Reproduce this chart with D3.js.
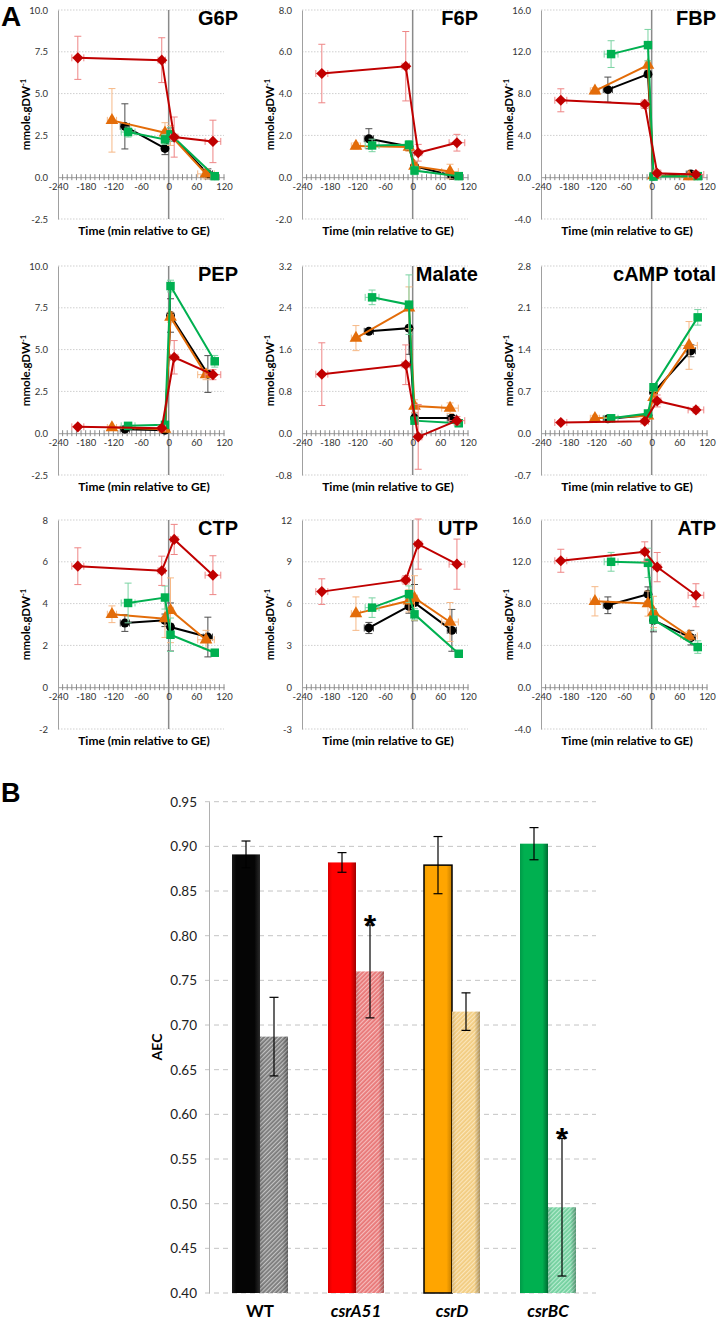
<!DOCTYPE html>
<html><head><meta charset="utf-8">
<script src="https://cdn.jsdelivr.net/npm/d3@7"></script>
<style>body{margin:0;background:#fff}svg{display:block}</style>
</head><body><svg id="chart" width="719" height="1324"></svg>
<script>
// ---------------- DATA: panel A ----------------
const strainNames = ["WT", "csrA51", "csrD", "csrBC"];
const timeWT  = [-95, -8, 4, 85];
const timeA51 = [-197, -15, 12, 96];
const timeD   = [-123, -8, 4, 81];
const timeBC  = [-88, -8, 4, 100];
const tErrWT  = [10, 6, 6, 10];
const tErrA51 = [13, 8, 8, 17];
const tErrD   = [10, 6, 6, 18];
const tErrBC  = [15, 6, 6, 8];

const panelNames = ["G6P", "F6P", "FBP", "PEP", "Malate", "cAMP total", "CTP", "UTP", "ATP"];
const panelMin  = [-2.5, -2, -4, -2.5, -0.8, -0.7, -2, -3, -4];
const panelMax  = [10, 8, 16, 10, 3.2, 2.8, 8, 12, 16];
const panelStep = [2.5, 2, 4, 2.5, 0.8, 0.7, 2, 3, 4];
const panelDecimals = [1, 1, 1, 1, 1, 1, 0, 0, 1];
const xTicks = [-240, -180, -120, -60, 0, 60, 120];

// rows: WT, csrA51, csrD, csrBC
const valG6P = [[3.04, 1.72, 2.55, 0.2], [7.14, 7.0, 2.4, 2.14], [3.4, 2.66, 2.5, 0.2], [2.7, 2.26, 2.56, 0.06]];
const errG6P = [[1.35, 0.37, 0.4, 0.3], [1.29, 1.34, 1.2, 1.27], [1.9, 0.6, 0.6, 0.3], [0.3, 0.3, 0.4, 0.1]];
const valF6P = [[1.84, 1.47, 0.53, 0.08], [4.96, 5.31, 1.17, 1.65], [1.49, 1.44, 0.53, 0.27], [1.52, 1.55, 0.32, 0.05]];
const errF6P = [[0.48, 0.2, 0.2, 0.1], [1.4, 1.66, 0.4, 0.4], [0.15, 0.2, 0.2, 0.35], [0.3, 0.2, 0.2, 0.1]];
const valFBP = [[8.38, 9.86, 0.1, 0.3], [7.36, 6.98, 0.38, 0.26], [8.26, 10.72, 0.15, 0.05], [11.78, 12.64, 0.06, 0.1]];
const errFBP = [[1.2, 0.3, 0.2, 0.3], [1.1, 0.4, 0.3, 0.3], [0.3, 0.4, 0.2, 0.3], [1.28, 1.5, 0.2, 0.2]];
const valPEP = [[0.24, 0.18, 7.04, 3.54], [0.38, 0.3, 4.54, 3.5], [0.34, 0.24, 6.94, 3.5], [0.44, 0.5, 8.8, 4.3]];
const errPEP = [[0.1, 0.1, 1.0, 1.1], [0.1, 0.1, 1.0, 0.3], [0.1, 0.1, 0.3, 0.3], [0.1, 0.1, 0.35, 0.35]];
const valMal = [[1.95, 2.01, 0.29, 0.29], [1.13, 1.31, -0.07, 0.24], [1.82, 2.4, 0.52, 0.48], [2.6, 2.46, 0.24, 0.19]];
const errMal = [[0.05, 0.5, 0.1, 0.05], [0.6, 0.38, 0.62, 0.08], [0.24, 0.4, 0.12, 0.1], [0.14, 0.57, 0.05, 0.05]];
const valCAMP = [[0.24, 0.3, 0.68, 1.38], [0.18, 0.2, 0.54, 0.39], [0.25, 0.29, 0.6, 1.47], [0.25, 0.33, 0.77, 1.94]];
const errCAMP = [[0.04, 0.04, 0.1, 0.1], [0.03, 0.03, 0.1, 0.05], [0.05, 0.05, 0.1, 0.4], [0.04, 0.04, 0.05, 0.13]];
const valCTP = [[3.07, 3.2, 2.88, 2.4], [5.79, 5.57, 7.07, 5.36], [3.49, 3.28, 3.68, 2.27], [4.03, 4.29, 2.51, 1.65]];
const errCTP = [[0.4, 0.3, 1.15, 0.95], [0.88, 0.7, 0.72, 0.93], [0.4, 0.9, 1.55, 0.45], [0.95, 0.55, 0.8, 0.15]];
const valUTP = [[4.25, 5.81, 6.07, 4.08], [6.86, 7.7, 10.27, 8.83], [5.28, 6.2, 6.4, 4.68], [5.71, 6.67, 5.23, 2.4]];
const errUTP = [[0.4, 0.5, 1.3, 1.5], [0.92, 0.3, 1.8, 1.8], [1.2, 0.8, 1.6, 1.4], [0.7, 0.6, 0.4, 0.2]];
const valATP = [[7.84, 8.9, 6.4, 4.74], [12.1, 12.96, 11.49, 8.8], [8.22, 8.0, 7.2, 4.9], [12.0, 11.9, 6.46, 3.84]];
const errATP = [[0.8, 0.7, 1.1, 0.7], [1.1, 0.95, 1.4, 1.1], [1.4, 1.2, 1.5, 0.4], [0.9, 1.4, 1.0, 0.6]];

// ---------------- DATA: panel B ----------------
const aecCategories = ["WT", "csrA51", "csrD", "csrBC"];
const aecBefore    = [0.891, 0.882, 0.879, 0.903];
const aecBeforeErr = [0.015, 0.011, 0.032, 0.018];
const aecAfter     = [0.687, 0.760, 0.715, 0.496];
const aecAfterErr  = [0.044, 0.052, 0.021, 0.077];
const aecSignif    = [false, true, false, true];
const aecTicks     = [0.40, 0.45, 0.50, 0.55, 0.60, 0.65, 0.70, 0.75, 0.80, 0.85, 0.90, 0.95];

// ---------------- styles ----------------
const lineColors = ["#000000", "#C00000", "#E36C09", "#00B050"];
const errColors  = ["#4d4d4d", "#EE8585", "#F6B886", "#7AD3A2"];
const drawOrder  = [0, 2, 3, 1];
const times  = [timeWT, timeA51, timeD, timeBC];
const tErrs  = [tErrWT, tErrA51, tErrD, tErrBC];
const panelVals = [valG6P, valF6P, valFBP, valPEP, valMal, valCAMP, valCTP, valUTP, valATP];
const panelErrs = [errG6P, errF6P, errFBP, errPEP, errMal, errCAMP, errCTP, errUTP, errATP];

const loc = d3.formatLocale({decimal: ".", thousands: ",", grouping: [3], currency: ["", ""], minus: "-"});
const tickFont = "Lato, 'DejaVu Sans', sans-serif";
const svg = d3.select("#chart");

svg.append("text").attr("x", 1).attr("y", 26).attr("font-family", "'Liberation Sans', Arial, sans-serif")
  .attr("font-weight", "bold").attr("font-size", 28).text("A");
svg.append("text").attr("x", 1).attr("y", 802).attr("font-family", "'Liberation Sans', Arial, sans-serif")
  .attr("font-weight", "bold").attr("font-size", 27).text("B");

const colX = [58, 302, 541];
const titleRight = [238, 478, 716];
const rowTop = [10, 266, 520];
const plotW = 166, plotH = 209;

panelNames.forEach((name, i) => {
  const col = i % 3, row = Math.floor(i / 3);
  const x0 = colX[col], y0 = rowTop[row];
  const x = d3.scaleLinear().domain([-240, 120]).range([x0, x0 + plotW]);
  const y = d3.scaleLinear().domain([panelMin[i], panelMax[i]]).range([y0 + plotH, y0]);
  const g = svg.append("g");
  const ticks = d3.range(0, Math.round((panelMax[i] - panelMin[i]) / panelStep[i]) + 1)
    .map(k => +(panelMin[i] + k * panelStep[i]).toFixed(3));

  g.append("g").selectAll("line").data(ticks.filter(t => Math.abs(t) > 1e-9)).join("line")
    .attr("x1", x0).attr("x2", x0 + plotW).attr("y1", d => y(d)).attr("y2", d => y(d))
    .attr("stroke", "#cfcfcf").attr("stroke-width", 1).attr("stroke-dasharray", "1.5,1.5");

  const yAx = g.append("g").attr("transform", `translate(${x0},0)`)
    .call(d3.axisLeft(y).tickValues(ticks).tickFormat(loc.format(`.${panelDecimals[i]}f`)).tickSize(0).tickPadding(10));
  yAx.select(".domain").attr("stroke", "#a0a0a0");
  yAx.selectAll("text").attr("font-family", tickFont).attr("font-size", 9.5).attr("fill", "#333");

  g.append("line").attr("x1", x(0)).attr("x2", x(0)).attr("y1", y0).attr("y2", y0 + plotH)
    .attr("stroke", "#8a8a8a").attr("stroke-width", 1.5);

  const xAx = g.append("g").attr("transform", `translate(0,${y(0)})`)
    .call(d3.axisBottom(x).tickValues(xTicks).tickFormat(loc.format("d")).tickSize(0).tickPadding(6));
  xAx.select(".domain").attr("stroke", "#9a9a9a");
  xAx.selectAll("text").attr("font-family", tickFont).attr("font-size", 9.5).attr("fill", "#333");
  g.append("g").selectAll("line").data(d3.range(-230, 121, 10)).join("line")
    .attr("x1", d => x(d)).attr("x2", d => x(d)).attr("y1", y(0) - 3).attr("y2", y(0) + 3)
    .attr("stroke", "#8a8a8a").attr("stroke-width", 1);

  g.append("text").attr("x", titleRight[col]).attr("y", y0 + 15).attr("text-anchor", "end")
    .attr("font-family", "'Liberation Sans', Arial, sans-serif").attr("font-weight", "bold")
    .attr("font-size", 20).text(name);
  g.append("text").attr("x", x0 + plotW / 2 + 3).attr("y", y0 + plotH + 16).attr("text-anchor", "middle")
    .attr("font-family", tickFont).attr("font-weight", "bold").attr("font-size", 12)
    .text("Time (min relative to GE)");
  const yl = g.append("text").attr("transform", `translate(${x0 - 28},${y0 + plotH / 2}) rotate(-90)`)
    .attr("text-anchor", "middle").attr("font-family", tickFont).attr("font-weight", "bold").attr("font-size", 11.5);
  yl.append("tspan").text("mmole.gDW");
  yl.append("tspan").attr("font-size", 7.5).attr("dy", -4).text("-1");

  drawOrder.forEach(s => {
    const pts = times[s].map((t, k) => ({t, v: panelVals[i][s][k], ev: panelErrs[i][s][k], et: tErrs[s][k]}));
    const sg = g.append("g");
    const ec = errColors[s];
    pts.forEach(p => {
      const cx = x(p.t), cy = y(p.v);
      const yTop = y(p.v + p.ev), yBot = y(p.v - p.ev);
      const xl = x(p.t - p.et), xr = x(p.t + p.et);
      const e = sg.append("g").attr("stroke", ec).attr("stroke-width", 1);
      e.append("line").attr("x1", cx).attr("x2", cx).attr("y1", yTop).attr("y2", yBot);
      e.append("line").attr("x1", cx - 3.5).attr("x2", cx + 3.5).attr("y1", yTop).attr("y2", yTop);
      e.append("line").attr("x1", cx - 3.5).attr("x2", cx + 3.5).attr("y1", yBot).attr("y2", yBot);
      e.append("line").attr("x1", xl).attr("x2", xr).attr("y1", cy).attr("y2", cy);
      e.append("line").attr("x1", xl).attr("x2", xl).attr("y1", cy - 3.5).attr("y2", cy + 3.5);
      e.append("line").attr("x1", xr).attr("x2", xr).attr("y1", cy - 3.5).attr("y2", cy + 3.5);
    });
    sg.append("path").datum(pts)
      .attr("d", d3.line().x(d => x(d.t)).y(d => y(d.v)))
      .attr("fill", "none").attr("stroke", lineColors[s]).attr("stroke-width", 2);
    const sym = [d3.symbol(d3.symbolCircle, 62), d3.symbol(d3.symbolSquare, 62),
                 d3.symbol(d3.symbolTriangle, 70), d3.symbol(d3.symbolSquare, 72)][s];
    sg.selectAll("path.m").data(pts).join("path").attr("class", "m")
      .attr("d", sym)
      .attr("transform", d => `translate(${x(d.t)},${y(d.v)})${s === 1 ? " rotate(45)" : ""}`)
      .attr("fill", lineColors[s]);
  });
});

// ---------------- panel B ----------------
const defs = svg.append("defs");
function solidGrad(id, c0, c1, c2) {
  const lg = defs.append("linearGradient").attr("id", id).attr("x1", 0).attr("x2", 1).attr("y1", 0).attr("y2", 0);
  lg.append("stop").attr("offset", "0%").attr("stop-color", c0);
  lg.append("stop").attr("offset", "15%").attr("stop-color", c1);
  lg.append("stop").attr("offset", "80%").attr("stop-color", c1);
  lg.append("stop").attr("offset", "100%").attr("stop-color", c2);
}
solidGrad("gWT", "#1a1a1a", "#050505", "#2a2a2a");
solidGrad("gA51", "#d80000", "#ff0000", "#a00000");
solidGrad("gD", "#f0a000", "#ffa500", "#c88000");
solidGrad("gBC", "#009a48", "#00b050", "#006a32");
function hatch(id, base, stripe) {
  const p = defs.append("pattern").attr("id", id).attr("patternUnits", "userSpaceOnUse")
    .attr("width", 3).attr("height", 3).attr("patternTransform", "rotate(45)");
  p.append("rect").attr("width", 3).attr("height", 3).attr("fill", base);
  p.append("rect").attr("width", 1.2).attr("height", 3).attr("fill", stripe);
}
hatch("hWT", "#7a7a7a", "#c4c4c4");
hatch("hA51", "#e87676", "#f6bcbc");
hatch("hD", "#f2cc80", "#fbe6bc");
hatch("hBC", "#72d09e", "#b8ecd0");
const shade = defs.append("linearGradient").attr("id", "shade").attr("x1", 0).attr("x2", 1).attr("y1", 0).attr("y2", 0);
shade.append("stop").attr("offset", "0%").attr("stop-color", "#000").attr("stop-opacity", 0.12);
shade.append("stop").attr("offset", "15%").attr("stop-color", "#000").attr("stop-opacity", 0);
shade.append("stop").attr("offset", "80%").attr("stop-color", "#000").attr("stop-opacity", 0);
shade.append("stop").attr("offset", "100%").attr("stop-color", "#000").attr("stop-opacity", 0.3);

const solidFills = ["url(#gWT)", "url(#gA51)", "url(#gD)", "url(#gBC)"];
const hatchFills = ["url(#hWT)", "url(#hA51)", "url(#hD)", "url(#hBC)"];

const yB = d3.scaleLinear().domain([0.40, 0.95]).range([1293, 801.7]);
const xB = d3.scaleBand().domain(aecCategories).range([212, 596]);
const barW = 28;
const gB = svg.append("g");

gB.append("g").selectAll("line").data(aecTicks).join("line")
  .attr("x1", 205).attr("x2", 596).attr("y1", d => yB(d)).attr("y2", d => yB(d))
  .attr("stroke", "#c4c4c4").attr("stroke-width", 1).attr("stroke-dasharray", "5,4");
const yAxB = gB.append("g").attr("transform", "translate(209,0)")
  .call(d3.axisLeft(yB).tickValues(aecTicks).tickFormat(loc.format(".2f")).tickSize(0).tickPadding(12));
yAxB.select(".domain").attr("stroke", "#b0b0b0");
yAxB.selectAll("text").attr("font-family", tickFont).attr("font-size", 13.5).attr("fill", "#222");

gB.append("text").attr("transform", "translate(162,1047) rotate(-90)").attr("text-anchor", "middle")
  .attr("font-family", tickFont).attr("font-weight", "bold").attr("font-size", 14).text("AEC");

aecCategories.forEach((c, i) => {
  const cx = xB(c) + xB.bandwidth() / 2;
  gB.append("rect").attr("x", cx - barW).attr("y", yB(aecBefore[i])).attr("width", barW)
    .attr("height", yB(0.40) - yB(aecBefore[i])).attr("fill", solidFills[i])
    .attr("stroke", i === 2 ? "#000" : "none").attr("stroke-width", 1.5);
  gB.append("rect").attr("x", cx).attr("y", yB(aecAfter[i])).attr("width", barW)
    .attr("height", yB(0.40) - yB(aecAfter[i])).attr("fill", hatchFills[i]);
  gB.append("rect").attr("x", cx).attr("y", yB(aecAfter[i])).attr("width", barW)
    .attr("height", yB(0.40) - yB(aecAfter[i])).attr("fill", "url(#shade)");
  [[cx - barW / 2, aecBefore[i], aecBeforeErr[i]], [cx + barW / 2, aecAfter[i], aecAfterErr[i]]].forEach(([ex, v, e]) => {
    const eg = gB.append("g").attr("stroke", "#000").attr("stroke-width", 1.2);
    eg.append("line").attr("x1", ex).attr("x2", ex).attr("y1", yB(v + e)).attr("y2", yB(v - e));
    eg.append("line").attr("x1", ex - 4.5).attr("x2", ex + 4.5).attr("y1", yB(v + e)).attr("y2", yB(v + e));
    eg.append("line").attr("x1", ex - 4.5).attr("x2", ex + 4.5).attr("y1", yB(v - e)).attr("y2", yB(v - e));
  });
  if (aecSignif[i]) {
    gB.append("text").attr("x", cx + barW / 2).attr("y", yB(aecAfter[i] + aecAfterErr[i]) + 12)
      .attr("text-anchor", "middle").attr("font-family", "'Liberation Sans', Arial, sans-serif")
      .attr("font-weight", "bold").attr("font-size", 32).text("*");
  }
  gB.append("text").attr("x", cx).attr("y", 1317).attr("text-anchor", "middle")
    .attr("font-family", tickFont).attr("font-weight", "bold").attr("font-style", i === 0 ? "normal" : "italic")
    .attr("font-size", 17).text(c);
});
</script>
</body></html>
